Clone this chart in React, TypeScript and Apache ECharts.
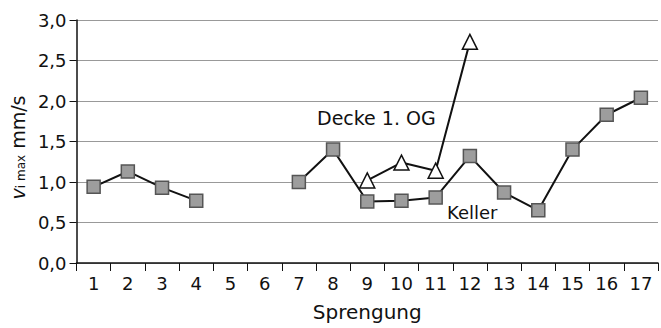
import React, { useEffect, useRef } from "react";
import * as echarts from "echarts";

const categories = ["1","2","3","4","5","6","7","8","9","10","11","12","13","14","15","16","17"];
const keller = [0.94, 1.13, 0.93, 0.77, null, null, 1.0, 1.4, 0.76, 0.77, 0.81, 1.32, 0.87, 0.65, 1.4, 1.83, 2.04];
const decke = [null, null, null, null, null, null, null, null, 1.02, 1.24, 1.14, 2.73, null, null, null, null, null];

const FONT = "DejaVu Sans";

export default function App() {
  const ref = useRef<HTMLDivElement>(null);
  useEffect(() => {
    const chart = echarts.init(ref.current!, undefined, { renderer: "svg" });
    chart.setOption({
      animation: false,
      backgroundColor: "#fff",
      grid: { left: 75, top: 20, right: 3, bottom: 65, containLabel: false },
      xAxis: {
        type: "category",
        data: categories,
        boundaryGap: true,
        name: "Sprengung",
        nameLocation: "middle",
        nameGap: 39,
        nameTextStyle: { fontFamily: FONT, fontSize: 20, color: "#111" },
        axisLine: { lineStyle: { color: "#111", width: 1.5 } },
        axisTick: { show: true, length: 8, lineStyle: { color: "#111" } },
        axisLabel: { fontFamily: FONT, fontSize: 18, color: "#111", margin: 11, interval: 0 },
      },
      yAxis: {
        type: "value",
        min: 0,
        max: 3,
        interval: 0.5,
        name: "{v|v}{sub|i max}{u| mm/s}",
        nameLocation: "middle",
        nameRotate: 90,
        nameGap: 47,
        nameTextStyle: {
          padding: [0, 12, 0, 0],
          rich: {
            v: { fontFamily: FONT, fontSize: 19, fontStyle: "italic", color: "#111" },
            sub: { fontFamily: FONT, fontSize: 12, color: "#111", verticalAlign: "bottom", padding: [7, 0, 0, 0] },
            u: { fontFamily: FONT, fontSize: 19, color: "#111" },
          },
        },
        axisLine: { show: true, lineStyle: { color: "#111", width: 1.5 } },
        axisTick: { show: true, length: 7, lineStyle: { color: "#111" } },
        axisLabel: {
          fontFamily: FONT,
          fontSize: 18,
          color: "#111",
          margin: 10,
          formatter: (v: number) => v.toFixed(1).replace(".", ","),
        },
        splitLine: { show: true, lineStyle: { color: "#999", width: 1 } },
      },
      series: [
        {
          name: "Keller",
          type: "line",
          data: keller,
          connectNulls: false,
          symbol: "rect",
          symbolSize: 13,
          itemStyle: { color: "#9d9d9d", borderColor: "#555", borderWidth: 1.5 },
          lineStyle: { color: "#111", width: 2 },
          z: 3,
        },
        {
          name: "Decke 1. OG",
          type: "line",
          data: decke,
          connectNulls: false,
          symbol: "triangle",
          symbolSize: 15,
          itemStyle: { color: "#fff", borderColor: "#111", borderWidth: 1.5 },
          lineStyle: { color: "#111", width: 2 },
          z: 4,
        },
      ],
      graphic: [
        { type: "text", left: 317, top: 108, style: { text: "Decke 1. OG", fontFamily: FONT, fontSize: 19, fill: "#111" } },
        { type: "text", left: 447, top: 203, style: { text: "Keller", fontFamily: FONT, fontSize: 18, fill: "#111" } },
      ],
    });
    return () => chart.dispose();
  }, []);
  return <div ref={ref} style={{ position: "fixed", left: 0, top: 0, width: 661, height: 328 }} />;
}
